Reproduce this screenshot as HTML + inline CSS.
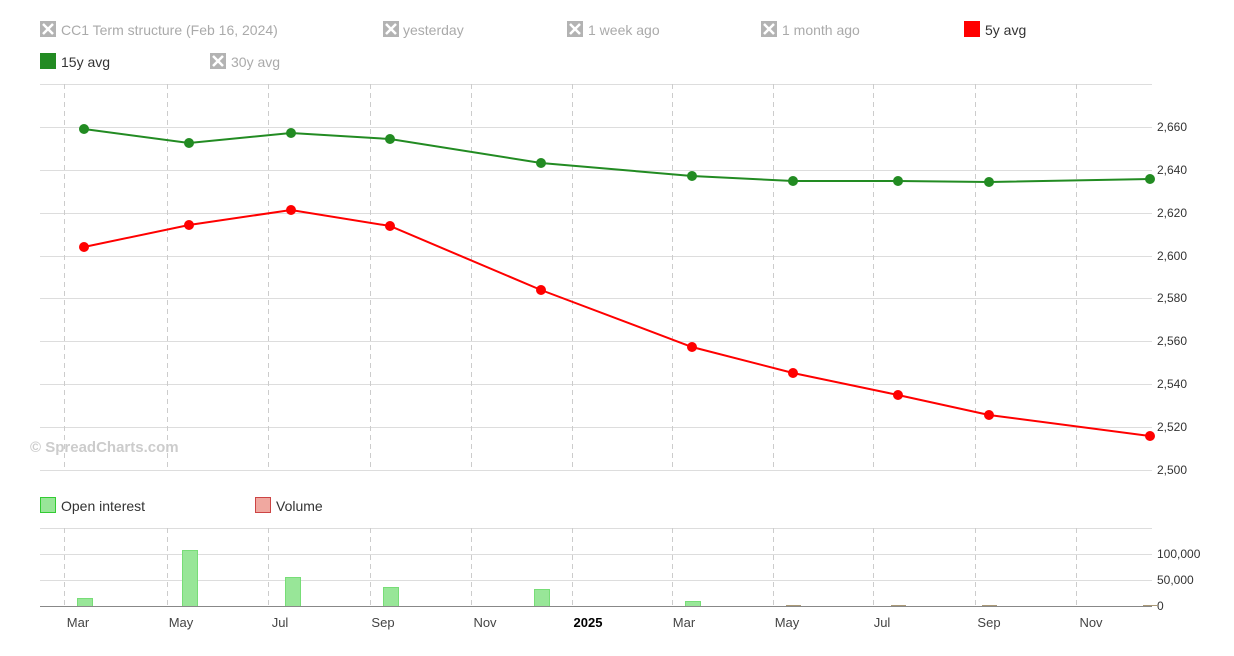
<!DOCTYPE html><html><head><style>body{margin:0;background:#fff}svg{font-family:"Liberation Sans",sans-serif}</style></head><body>
<svg width="1234" height="651" xmlns="http://www.w3.org/2000/svg">
<g font-size="14" fill="#aaa">
<g fill="#b3b3b3"><rect x="40" y="21" width="16" height="16"/><rect x="383" y="21" width="16" height="16"/><rect x="567" y="21" width="16" height="16"/><rect x="761" y="21" width="16" height="16"/><rect x="210" y="53" width="16" height="16"/></g>
<g stroke="#fff" stroke-width="2.5"><path d="M43 24l10 10M53 24l-10 10M386 24l10 10M396 24l-10 10M570 24l10 10M580 24l-10 10M764 24l10 10M774 24l-10 10M213 56l10 10M223 56l-10 10"/></g>
<text x="61" y="35">CC1 Term structure (Feb 16, 2024)</text><text x="403" y="35">yesterday</text><text x="588" y="35">1 week ago</text><text x="782" y="35">1 month ago</text><text x="231" y="67">30y avg</text>
<rect x="964" y="21" width="16" height="16" fill="#f00"/><text x="985" y="35" fill="#333">5y avg</text>
<rect x="40" y="53" width="16" height="16" fill="#228b22"/><text x="61" y="67" fill="#333">15y avg</text>
</g>
<g stroke="#ddd" stroke-width="1"><path d="M40 84.5H1152M40 127.5H1152M40 170.5H1152M40 213.5H1152M40 256.5H1152M40 298.5H1152M40 341.5H1152M40 384.5H1152M40 427.5H1152M40 470.5H1152"/><path d="M40 528.5H1152M40 554.5H1152M40 580.5H1152"/></g>
<g stroke="#ccc" stroke-dasharray="5,4"><path d="M64.5 84V470M167.5 84V470M268.5 84V470M370.5 84V470M471.5 84V470M572.5 84V470M672.5 84V470M773.5 84V470M873.5 84V470M975.5 84V470M1076.5 84V470"/><path d="M64.5 528V606M167.5 528V606M268.5 528V606M370.5 528V606M471.5 528V606M572.5 528V606M672.5 528V606M773.5 528V606M873.5 528V606M975.5 528V606M1076.5 528V606"/></g>
<g font-size="12" fill="#333"><text x="1157" y="131">2,660</text><text x="1157" y="174">2,640</text><text x="1157" y="217">2,620</text><text x="1157" y="260">2,600</text><text x="1157" y="302">2,580</text><text x="1157" y="345">2,560</text><text x="1157" y="388">2,540</text><text x="1157" y="431">2,520</text><text x="1157" y="474">2,500</text>
<text x="1157" y="558">100,000</text><text x="1157" y="584">50,000</text><text x="1157" y="610">0</text></g>
<text x="30" y="452" font-size="15" font-weight="bold" fill="#ccc">© SpreadCharts.com</text>
<polyline fill="none" stroke="#228b22" stroke-width="2" points="84,129 189,143 291,133 390,139 541,163 692,176 793,181 898,181 989,182 1150,179"/>
<g fill="#228b22"><circle cx="84" cy="129" r="5"/><circle cx="189" cy="143" r="5"/><circle cx="291" cy="133" r="5"/><circle cx="390" cy="139" r="5"/><circle cx="541" cy="163" r="5"/><circle cx="692" cy="176" r="5"/><circle cx="793" cy="181" r="5"/><circle cx="898" cy="181" r="5"/><circle cx="989" cy="182" r="5"/><circle cx="1150" cy="179" r="5"/></g>
<polyline fill="none" stroke="#f00" stroke-width="2" points="84,247 189,225 291,210 390,226 541,290 692,347 793,373 898,395 989,415 1150,436"/>
<g fill="#f00"><circle cx="84" cy="247" r="5"/><circle cx="189" cy="225" r="5"/><circle cx="291" cy="210" r="5"/><circle cx="390" cy="226" r="5"/><circle cx="541" cy="290" r="5"/><circle cx="692" cy="347" r="5"/><circle cx="793" cy="373" r="5"/><circle cx="898" cy="395" r="5"/><circle cx="989" cy="415" r="5"/><circle cx="1150" cy="436" r="5"/></g>
<rect x="40.5" y="497.5" width="15" height="15" fill="#98e698" stroke="#3c3"/><text x="61" y="511" font-size="14" fill="#333">Open interest</text>
<rect x="255.5" y="497.5" width="15" height="15" fill="#f0a8a0" stroke="#c44"/><text x="276" y="511" font-size="14" fill="#333">Volume</text>
<g fill="#98e698" stroke="#7d7"><rect x="77.5" y="598.5" width="15" height="8"/><rect x="182.5" y="550.5" width="15" height="56"/><rect x="285.5" y="577.5" width="15" height="29"/><rect x="383.5" y="587.5" width="15" height="19"/><rect x="534.5" y="589.5" width="15" height="17"/><rect x="685.5" y="601.5" width="15" height="5"/></g>
<g fill="#a97"><rect x="786" y="605" width="15" height="1"/><rect x="891" y="605" width="15" height="1"/><rect x="982" y="605" width="15" height="1"/><rect x="1143" y="605" width="15" height="1"/></g>
<path d="M40 606.5H1152" stroke="#888"/>
<g font-size="13" fill="#444" text-anchor="middle"><text x="78" y="627">Mar</text><text x="181" y="627">May</text><text x="280" y="627">Jul</text><text x="383" y="627">Sep</text><text x="485" y="627">Nov</text><text x="588" y="627" font-weight="bold" fill="#000">2025</text><text x="684" y="627">Mar</text><text x="787" y="627">May</text><text x="882" y="627">Jul</text><text x="989" y="627">Sep</text><text x="1091" y="627">Nov</text></g>
</svg></body></html>
